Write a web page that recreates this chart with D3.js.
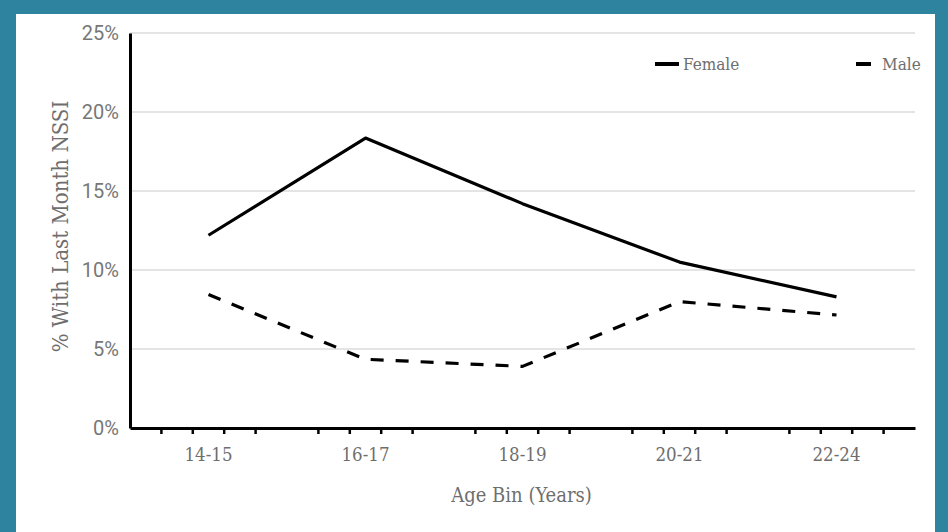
<!DOCTYPE html>
<html>
<head>
<meta charset="utf-8">
<script src="https://cdn.jsdelivr.net/npm/d3@7"></script>
<style>
  html, body { margin: 0; padding: 0; background: #2E849E; }
  svg { display: block; }
</style>
</head>
<body>
<svg id="chart" width="948" height="532"></svg>
<script>
const categories = ["14-15", "16-17", "18-19", "20-21", "22-24"];
const femaleValues = [12.2, 18.35, 14.2, 10.5, 8.3];
const maleValues = [8.45, 4.35, 3.9, 8.0, 7.15];
const yTickValues = [0, 5, 10, 15, 20, 25];
const seriesNames = ["Female", "Male"];

const svg = d3.select("#chart");
const W = 948, H = 532;
const margin = { left: 130, right: 33, top: 33, bottom: 104 };

// white panel
svg.append("rect").attr("x", 16).attr("y", 14).attr("width", 919).attr("height", H - 14).attr("fill", "#ffffff");

const x = d3.scaleBand().domain(categories).range([margin.left, W - margin.right]).padding(0);
const y = d3.scaleLinear().domain([0, 25]).range([H - margin.bottom, margin.top]);

const serif = "'DejaVu Serif Condensed', 'DejaVu Serif', serif";
const textColor = "#6e6e6e";

// gridlines
svg.append("g").selectAll("line").data(yTickValues.filter(v => v > 0)).join("line")
  .attr("x1", margin.left).attr("x2", W - margin.right)
  .attr("y1", d => y(d)).attr("y2", d => y(d))
  .attr("stroke", "#e4e4e4").attr("stroke-width", 2);

// y axis
const yAxis = d3.axisLeft(y).tickValues(yTickValues).tickSize(0).tickPadding(11).tickFormat(d => d + "%");
const gy = svg.append("g").attr("transform", `translate(${margin.left},0)`).call(yAxis);
gy.select(".domain").attr("stroke", "#000").attr("stroke-width", 3);
gy.selectAll("text").attr("font-family", "Roboto, sans-serif").attr("font-size", 20).attr("fill", "#777");

// x axis
const xAxis = d3.axisBottom(x).tickSize(0).tickPadding(20);
const gx = svg.append("g").attr("transform", `translate(0,${y(0)})`).call(xAxis);
gx.select(".domain").attr("stroke", "#000").attr("stroke-width", 3);
gx.selectAll("text").attr("font-family", serif).attr("font-size", 18.5).attr("fill", textColor);

// minor ticks inside each band
const minor = [];
categories.forEach(c => { for (let k = 1; k <= 4; k++) minor.push(x(c) + k * x.bandwidth() / 5); });
svg.append("g").selectAll("line").data(minor).join("line")
  .attr("x1", d => d).attr("x2", d => d)
  .attr("y1", y(0)).attr("y2", y(0) + 6)
  .attr("stroke", "#000").attr("stroke-width", 2.5);

// axis titles
svg.append("text")
  .attr("transform", `translate(68,${(y(0) + y(25)) / 2 - 4}) rotate(-90)`)
  .attr("text-anchor", "middle").attr("font-family", serif).attr("font-size", 22).attr("fill", textColor)
  .text("% With Last Month NSSI");
svg.append("text")
  .attr("x", (x.range()[0] + x.range()[1]) / 2 - 1).attr("y", 502)
  .attr("text-anchor", "middle").attr("font-family", serif).attr("font-size", 20).attr("fill", textColor)
  .text("Age Bin (Years)");

// lines
const cx = d => x(d) + x.bandwidth() / 2;
const line = d3.line().x((d, i) => cx(categories[i])).y(d => y(d));
svg.append("path").datum(femaleValues).attr("d", line)
  .attr("fill", "none").attr("stroke", "#000").attr("stroke-width", 3.2).attr("stroke-linejoin", "round");
svg.append("path").datum(maleValues).attr("d", line)
  .attr("fill", "none").attr("stroke", "#000").attr("stroke-width", 3.2).attr("stroke-dasharray", "13,12")
  .attr("stroke-linejoin", "round");

// legend
const legend = svg.append("g");
const leg = [
  { name: seriesNames[0], x1: 655, x2: 679, tx: 683 },
  { name: seriesNames[1], x1: 856, x2: 871, tx: 882 }
];
leg.forEach(l => {
  legend.append("line").attr("x1", l.x1).attr("x2", l.x2).attr("y1", 64).attr("y2", 64)
    .attr("stroke", "#000").attr("stroke-width", 4);
  legend.append("text").attr("x", l.tx).attr("y", 70).attr("font-family", serif).attr("font-size", 17)
    .attr("fill", textColor).text(l.name);
});
</script>
</body>
</html>
